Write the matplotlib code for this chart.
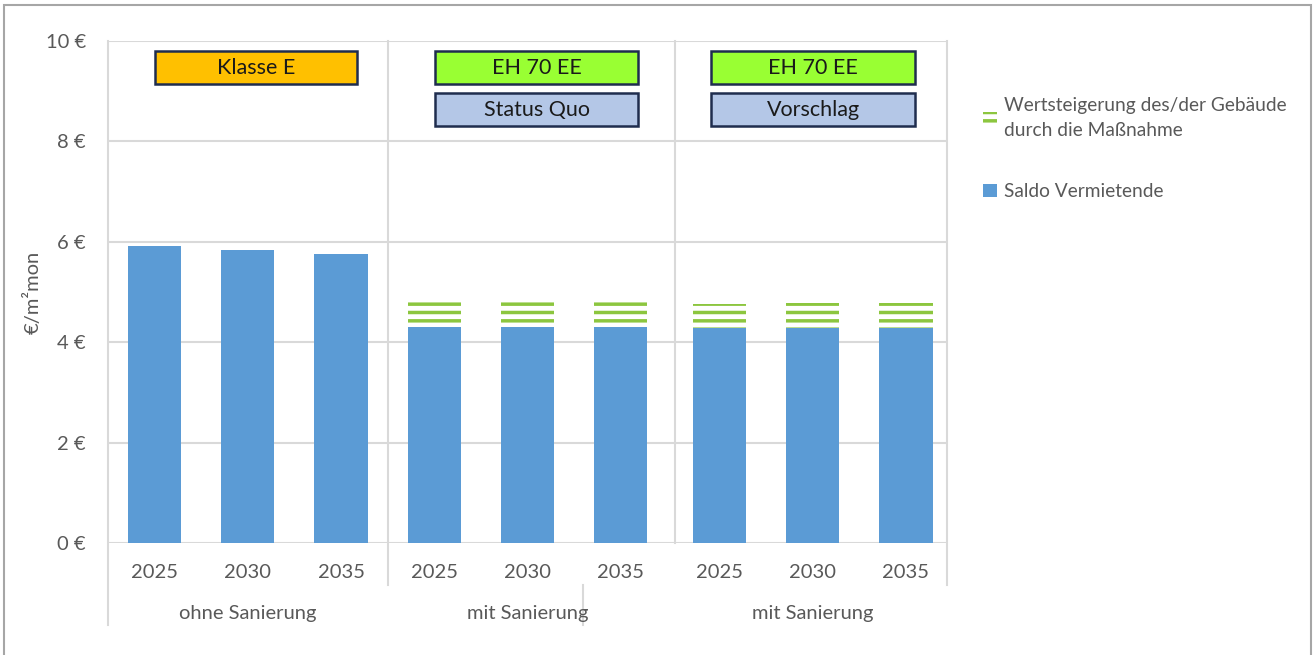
import numpy as np
import matplotlib.pyplot as plt
from matplotlib.patches import Rectangle

plt.rcParams["font.family"] = ["Lato", "DejaVu Sans"]
plt.rcParams["hatch.linewidth"] = 2.5

# Daten
jahre = ["2025", "2030", "2035"] * 3
gruppen = ["ohne Sanierung", "mit Sanierung", "mit Sanierung"]
saldo = [5.91, 5.83, 5.76, 4.31, 4.31, 4.31, 4.28, 4.28, 4.28]
wertsteigerung = [0.0, 0.0, 0.0, 0.49, 0.51, 0.51, 0.49, 0.50, 0.50]
y_ticks = [0, 2, 4, 6, 8, 10]

boxen = [
    # (x0, x1, y0, y1, text, farbe)
    (0.0, 2.17, 9.14, 9.80, "Klasse E", "#FFC000"),
    (3.01, 5.19, 9.14, 9.80, "EH 70 EE", "#99FF33"),
    (3.01, 5.19, 8.30, 8.96, "Status Quo", "#B4C7E7"),
    (5.97, 8.16, 9.14, 9.80, "EH 70 EE", "#99FF33"),
    (5.97, 8.16, 8.30, 8.96, "Vorschlag", "#B4C7E7"),
]

BLAU = "#5B9BD5"
GRUEN = "#8CC63F"
GRID = "#D9D9D9"
TEXT = "#595959"
FS = 14.5

fig = plt.figure(figsize=(13.15, 6.55), dpi=100)
ax = fig.add_axes([108 / 1315, 1 - 543 / 655, 839 / 1315, 502 / 655])

x = np.arange(9, dtype=float)
x[6:] += 0.06
breite = 0.57

ax.bar(x, saldo, breite, color=BLAU, zorder=3, label="Saldo Vermietende")
ax.bar(x, wertsteigerung, breite, bottom=saldo, facecolor="white", edgecolor=GRUEN,
       linewidth=0, hatch="--", zorder=3, label="Wertsteigerung des/der Gebäude\ndurch die Maßnahme")

ax.set_xlim(-0.5, 8.5)
ax.set_ylim(0, 10)
for s in ax.spines.values():
    s.set_visible(False)

# horizontale Gitterlinien
for v in y_ticks:
    ax.axhline(v, color=GRID, lw=1.5, zorder=1)

ax.set_yticks(y_ticks)
ax.set_yticklabels([f"{v} €" for v in y_ticks], fontsize=FS, color=TEXT)
ax.tick_params(axis="y", length=0, pad=16)
ax.set_xticks(x)
ax.set_xticklabels(jahre, fontsize=FS, color=TEXT)
ax.tick_params(axis="x", length=0, pad=15)

ax.set_ylabel("€/m²mon", fontsize=FS, color=TEXT, labelpad=3)

# vertikale Trennlinien (Kategorieachse)
for xv, unten in [(-0.5, -0.164), (2.5, -0.084), (5.58, 0.0), (8.5, -0.084)]:
    ax.plot([xv, xv], [1.0, unten], color=GRID, lw=1.5, transform=ax.get_xaxis_transform(),
            clip_on=False, zorder=1)
ax.plot([4.6, 4.6], [-0.084, -0.164], color=GRID, lw=1.5, transform=ax.get_xaxis_transform(),
        clip_on=False, zorder=1)

for i, g in enumerate(gruppen):
    ax.text(x[3 * i + 1], -0.14, g, transform=ax.get_xaxis_transform(), ha="center",
            va="center", fontsize=FS, color=TEXT)

# Beschriftungskästen
for x0, x1, y0, y1, txt, farbe in boxen:
    ax.add_patch(Rectangle((x0, y0), x1 - x0, y1 - y0, facecolor=farbe, edgecolor="#1F2D4E",
                           lw=1.8, zorder=4))
    ax.text((x0 + x1) / 2, (y0 + y1) / 2, txt, ha="center", va="center", fontsize=15.5,
            color="#1A1A1A", zorder=5)

h, l = ax.get_legend_handles_labels()
leg = fig.legend(h[::-1], l[::-1], loc="upper left", bbox_to_anchor=(966 / 1315, 1 - 80 / 655),
                 frameon=False, fontsize=13.8, labelcolor=TEXT, handlelength=0.7, handleheight=0.7,
                 handletextpad=0.4, labelspacing=2.3)
for t in leg.get_texts():
    t.set_linespacing(1.55)

# Rahmen um die Grafik
fig.add_artist(Rectangle((4 / 1315, -0.05), 1307 / 1315, 1.05 - 5 / 655, transform=fig.transFigure,
                         fill=False, edgecolor="#A6A6A6", lw=1.5))

fig.savefig("out.png", dpi=100)
